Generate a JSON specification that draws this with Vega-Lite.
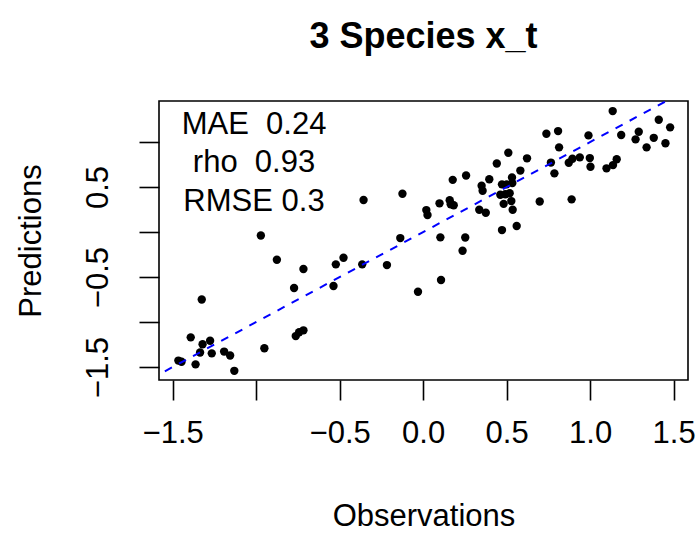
{
  "$schema": "https://vega.github.io/schema/vega-lite/v6.json",
  "width": 529,
  "height": 279,
  "autosize": {"type": "none"},
  "padding": {"left": 159, "top": 101, "right": 8, "bottom": 153},
  "background": "white",
  "title": {"text": "3 Species x_t", "font": "Liberation Sans", "fontSize": 36, "fontWeight": "bold", "anchor": "middle", "baseline": "alphabetic", "offset": 17, "color": "black"},
  "config": {"view": {"stroke": "black", "strokeWidth": 1.6}},
  "layer": [
    {
      "data": {"values": [
        {"obs": -1.466, "pred": -1.428}, {"obs": -1.447, "pred": -1.441}, {"obs": -1.392, "pred": -1.170}, {"obs": -1.363, "pred": -1.470},
        {"obs": -1.336, "pred": -1.339}, {"obs": -1.321, "pred": -1.247}, {"obs": -1.276, "pred": -1.208}, {"obs": -1.266, "pred": -1.348},
        {"obs": -1.192, "pred": -1.328}, {"obs": -1.156, "pred": -1.372}, {"obs": -1.131, "pred": -1.542}, {"obs": -0.951, "pred": -1.291},
        {"obs": -1.326, "pred": -0.750}, {"obs": -0.972, "pred": -0.039}, {"obs": -0.876, "pred": -0.308}, {"obs": -0.717, "pred": -0.411},
        {"obs": -0.773, "pred": -0.622}, {"obs": -0.523, "pred": -0.359}, {"obs": -0.477, "pred": -0.286}, {"obs": -0.365, "pred": -0.359},
        {"obs": -0.217, "pred": -0.367}, {"obs": -0.137, "pred": -0.067}, {"obs": -0.031, "pred": -0.663}, {"obs": -0.537, "pred": -0.600},
        {"obs": -0.763, "pred": -1.156}, {"obs": -0.743, "pred": -1.114}, {"obs": -0.717, "pred": -1.092}, {"obs": -0.357, "pred": 0.356},
        {"obs": -0.124, "pred": 0.426}, {"obs": 0.019, "pred": 0.244}, {"obs": 0.026, "pred": 0.189}, {"obs": 0.098, "pred": 0.319},
        {"obs": 0.159, "pred": 0.353}, {"obs": 0.165, "pred": 0.309}, {"obs": 0.183, "pred": 0.298}, {"obs": 0.103, "pred": -0.059},
        {"obs": 0.252, "pred": -0.061}, {"obs": 0.236, "pred": -0.208}, {"obs": 0.107, "pred": -0.533}, {"obs": 0.177, "pred": 0.580},
        {"obs": 0.257, "pred": 0.628}, {"obs": 0.396, "pred": 0.586}, {"obs": 0.350, "pred": 0.514}, {"obs": 0.356, "pred": 0.459},
        {"obs": 0.336, "pred": 0.248}, {"obs": 0.375, "pred": 0.214}, {"obs": 0.472, "pred": 0.530}, {"obs": 0.500, "pred": 0.530},
        {"obs": 0.532, "pred": 0.606}, {"obs": 0.534, "pred": 0.544}, {"obs": 0.462, "pred": 0.414}, {"obs": 0.492, "pred": 0.420},
        {"obs": 0.518, "pred": 0.431}, {"obs": 0.528, "pred": 0.344}, {"obs": 0.482, "pred": 0.313}, {"obs": 0.536, "pred": 0.248},
        {"obs": 0.472, "pred": 0.022}, {"obs": 0.560, "pred": 0.067}, {"obs": 0.510, "pred": 0.881}, {"obs": 0.441, "pred": 0.761},
        {"obs": 0.622, "pred": 0.819}, {"obs": 0.582, "pred": 0.683}, {"obs": 0.698, "pred": 0.339}, {"obs": 0.889, "pred": 0.363},
        {"obs": 0.738, "pred": 1.092}, {"obs": 0.808, "pred": 1.122}, {"obs": 0.814, "pred": 0.941}, {"obs": 0.765, "pred": 0.772},
        {"obs": 0.786, "pred": 0.652}, {"obs": 0.872, "pred": 0.770}, {"obs": 0.894, "pred": 0.814}, {"obs": 0.938, "pred": 0.830},
        {"obs": 0.998, "pred": 0.822}, {"obs": 1.002, "pred": 0.726}, {"obs": 0.990, "pred": 1.074}, {"obs": 1.098, "pred": 0.708},
        {"obs": 1.137, "pred": 0.744}, {"obs": 1.159, "pred": 0.809}, {"obs": 1.186, "pred": 1.078}, {"obs": 1.135, "pred": 1.344},
        {"obs": 1.291, "pred": 1.114}, {"obs": 1.272, "pred": 1.030}, {"obs": 1.338, "pred": 0.941}, {"obs": 1.381, "pred": 1.047},
        {"obs": 1.411, "pred": 1.248}, {"obs": 1.451, "pred": 0.986}, {"obs": 1.479, "pred": 1.163}
      ]},
      "mark": {"type": "circle", "size": 70, "color": "black", "opacity": 1},
      "encoding": {
        "x": {"field": "obs", "type": "quantitative", "scale": {"domain": [-1.582, 1.586], "nice": false, "zero": false},
          "axis": {"title": "Observations", "values": [-1.5, -1, -0.5, 0, 0.5, 1, 1.5],
            "labelExpr": "datum.value == -1 ? '' : format(datum.value, '.1f')",
            "domain": false, "grid": false, "tickSize": 20, "tickWidth": 1.6, "tickColor": "black",
            "labelFont": "Liberation Sans", "labelFontSize": 31, "labelColor": "black", "labelPadding": 18,
            "labelFlush": false, "labelOverlap": false,
            "titleFont": "Liberation Sans", "titleFontSize": 31, "titleFontWeight": "normal", "titleColor": "black", "titlePadding": 53}},
        "y": {"field": "pred", "type": "quantitative", "scale": {"domain": [-1.644, 1.456], "nice": false, "zero": false},
          "axis": {"title": "Predictions", "values": [-1.5, -1, -0.5, 0, 0.5, 1],
            "labelExpr": "datum.value == -1.5 || datum.value == -0.5 || datum.value == 0.5 ? format(datum.value, '.1f') : ''",
            "domain": false, "grid": false, "tickSize": 20, "tickWidth": 1.6, "tickColor": "black",
            "labelFont": "Liberation Sans", "labelFontSize": 31, "labelColor": "black", "labelPadding": 32,
            "labelAngle": -90, "labelAlign": "center", "labelBaseline": "alphabetic",
            "labelFlush": false, "labelOverlap": false,
            "titleFont": "Liberation Sans", "titleFontSize": 31, "titleFontWeight": "normal", "titleColor": "black",
            "titleBaseline": "alphabetic", "titlePadding": 42}}
      }
    },
    {
      "data": {"values": [{"obs": -1.8, "pred": -1.8}, {"obs": 1.8, "pred": 1.8}]},
      "mark": {"type": "line", "color": "blue", "strokeDash": [8, 8], "strokeWidth": 2, "clip": true},
      "encoding": {
        "x": {"field": "obs", "type": "quantitative"},
        "y": {"field": "pred", "type": "quantitative"}
      }
    },
    {
      "data": {"values": [
        {"obs": -1.013, "pred": 1.086, "label": "MAE\u00a0 0.24"},
        {"obs": -1.013, "pred": 0.664, "label": "rho\u00a0 0.93"},
        {"obs": -1.013, "pred": 0.234, "label": "RMSE 0.3"}
      ]},
      "mark": {"type": "text", "font": "Liberation Sans", "fontSize": 31, "align": "center", "baseline": "alphabetic", "color": "black"},
      "encoding": {
        "x": {"field": "obs", "type": "quantitative"},
        "y": {"field": "pred", "type": "quantitative"},
        "text": {"field": "label"}
      }
    }
  ]
}
